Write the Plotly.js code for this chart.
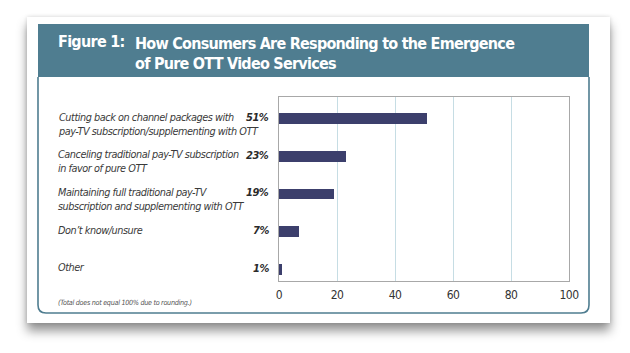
<!DOCTYPE html>
<html>
<head>
<meta charset="utf-8">
<script src="https://cdn.plot.ly/plotly-3.0.1.min.js"></script>
<style>
  html, body { margin:0; padding:0; background:#ffffff; width:630px; height:353px; overflow:hidden; }
  #card { position:absolute; left:27px; top:17px; width:583px; height:306px; background:#ffffff;
          box-shadow: 0 8px 10px rgba(0,0,0,0.42), 0 0 4px rgba(0,0,0,0.15); }
  #chart { position:absolute; left:0; top:0; width:630px; height:353px; }
  #chart .xtick text { letter-spacing: -0.6px; }
</style>
</head>
<body>
<div id="card"></div>
<div id="chart"></div>
<script>
// ---- data ----
const categories = ["Cutting back", "Canceling", "Maintaining", "Don't know", "Other"];
const labels = [
  "Cutting back on channel packages with<br>pay-TV subscription/supplementing with OTT",
  "Canceling traditional pay-TV subscription<br>in favor of pure OTT",
  "Maintaining full traditional pay-TV<br>subscription and supplementing with OTT",
  "Don’t know/unsure",
  "Other"
];
const values = [51, 23, 19, 7, 1];
const tickVals = [0, 20, 40, 60, 80, 100];
const titleMainLines = ["How Consumers Are Responding to the Emergence", "of Pure OTT Video Services"];
const titleFig = "Figure 1:";
const footnote = "(Total does not equal 100% due to rounding.)";

// ---- layout helpers ----
const W = 630, H = 353;
const M = {l: 279, r: 61, t: 97, b: 72};
const pw = W - M.l - M.r, ph = H - M.t - M.b;
const px = v => (v - M.l) / pw;
const py = v => (H - M.b - v) / ph;

const NARROW = "'DejaVu Sans Condensed', 'Liberation Sans Narrow', 'Arial Narrow', sans-serif";
const teal = "#4f7d90";
const sp = (t, ls) => '<span style="letter-spacing:' + ls + 'px">' + t + '</span>';

const annotations = [];
labels.forEach((t, i) => {
  const lines = t.split("<br>").map(s => sp(s, -0.45)).join("<br>");
  annotations.push({
    xref: "paper", yref: "y", x: px(56), y: categories[i], xanchor: "left", yanchor: "top",
    yshift: 10, align: "left", showarrow: false, text: "<i>" + lines + "</i>",
    font: {family: NARROW, size: 10.8, color: "#3a3a3a"}
  });
  annotations.push({
    xref: "paper", yref: "y", x: px(271), y: categories[i], xanchor: "right", yanchor: "middle",
    yshift: 1, showarrow: false, text: "<b><i>" + sp(values[i] + "%", -0.5) + "</i></b>",
    font: {family: NARROW, size: 11, color: "#2a2a2a"}
  });
});
annotations.push({
  xref: "paper", yref: "paper", x: px(56), y: py(42), xanchor: "left", yanchor: "middle",
  showarrow: false, text: "<b>" + sp(titleFig, -0.7) + "</b>",
  font: {family: NARROW, size: 16, color: "#ffffff"}
});
annotations.push({
  xref: "paper", yref: "paper", x: px(56), y: py(302), xanchor: "left", yanchor: "middle",
  showarrow: false, text: "<i>" + sp(footnote, -0.3) + "</i>",
  font: {family: NARROW, size: 7.2, color: "#555555"}
});

const borderPath =
  "M " + px(38) + " " + py(77) +
  " L " + px(38) + " " + py(305) +
  " Q " + px(38) + " " + py(313) + " " + px(46) + " " + py(313) +
  " L " + px(581) + " " + py(313) +
  " Q " + px(589) + " " + py(313) + " " + px(589) + " " + py(305) +
  " L " + px(589) + " " + py(77);

const layout = {
  width: W, height: H,
  margin: M,
  paper_bgcolor: "rgba(0,0,0,0)",
  plot_bgcolor: "#ffffff",
  showlegend: false,
  title: {
    text: "<b>" + titleMainLines.map(s => sp(s, -0.75)).join("<br>") + "</b>",
    xref: "container", yref: "container",
    x: 135 / W, xanchor: "left",
    y: 1 - 48.5 / H, yanchor: "middle",
    font: {family: NARROW, size: 16, color: "#ffffff"}
  },
  xaxis: {
    range: [0, 100], tickvals: tickVals, ticktext: tickVals.map(String),
    showgrid: true, gridcolor: "#c6dde4", gridwidth: 1,
    zeroline: false, showline: true, mirror: true, linecolor: "#a8a8a8", linewidth: 1,
    ticks: "outside", ticklen: 3, tickcolor: "rgba(0,0,0,0)",
    tickfont: {family: NARROW, size: 12, color: "#333333"},
    fixedrange: true
  },
  yaxis: {
    type: "category", categoryorder: "array", categoryarray: categories,
    range: [4.308, -0.573],
    showticklabels: false, showgrid: false, zeroline: false,
    showline: true, mirror: true, linecolor: "#a8a8a8", linewidth: 1, ticks: "",
    fixedrange: true
  },
  shapes: [
    {type: "rect", xref: "paper", yref: "paper", x0: px(38), x1: px(589), y0: py(77), y1: py(24),
     fillcolor: teal, line: {width: 0}, layer: "below"},
    {type: "path", xref: "paper", yref: "paper", path: borderPath,
     line: {color: teal, width: 1.6}, layer: "below"}
  ],
  annotations: annotations,
  bargap: 0
};

const trace = {
  type: "bar", orientation: "h",
  x: values, y: categories, width: 0.29,
  marker: {color: "#3c3f6c", line: {width: 0}},
  hoverinfo: "none"
};

Plotly.newPlot("chart", [trace], layout, {displayModeBar: false, staticPlot: true});
</script>
</body>
</html>
